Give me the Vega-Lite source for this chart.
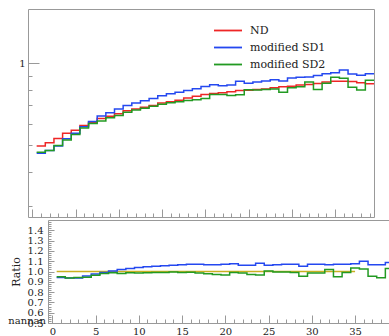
{
  "$schema": "https://vega.github.io/schema/vega-lite/v6.json",
  "padding": {"left": 7, "top": 8, "right": 0, "bottom": 0},
  "config": {
    "font": "DejaVu Serif",
    "view": {"stroke": "#999", "strokeWidth": 1},
    "axis": {"domain": false, "grid": false, "labelFont": "DejaVu Serif", "labelFontSize": 10, "labelColor": "#222", "tickColor": "#999", "labelOverlap": false, "labelFlush": false, "titleFont": "DejaVu Serif", "titleFontWeight": "normal", "titleFontSize": 11, "titleColor": "#222"}
  },
  "datasets": {
    "hist": [
      {"x": 0.5, "ND": 0.497, "modified SD1": 0.468, "modified SD2": 0.472, "r1": 0.942, "r2": 0.95},
      {"x": 1.5, "ND": 0.511, "modified SD1": 0.479, "modified SD2": 0.479, "r1": 0.937, "r2": 0.938},
      {"x": 2.5, "ND": 0.530, "modified SD1": 0.497, "modified SD2": 0.499, "r1": 0.937, "r2": 0.942},
      {"x": 3.5, "ND": 0.553, "modified SD1": 0.529, "modified SD2": 0.523, "r1": 0.957, "r2": 0.945},
      {"x": 4.5, "ND": 0.568, "modified SD1": 0.554, "modified SD2": 0.548, "r1": 0.975, "r2": 0.964},
      {"x": 5.5, "ND": 0.591, "modified SD1": 0.585, "modified SD2": 0.579, "r1": 0.99, "r2": 0.98},
      {"x": 6.5, "ND": 0.608, "modified SD1": 0.611, "modified SD2": 0.601, "r1": 1.005, "r2": 0.988},
      {"x": 7.5, "ND": 0.627, "modified SD1": 0.640, "modified SD2": 0.614, "r1": 1.02, "r2": 0.98},
      {"x": 8.5, "ND": 0.639, "modified SD1": 0.658, "modified SD2": 0.631, "r1": 1.03, "r2": 0.987},
      {"x": 9.5, "ND": 0.653, "modified SD1": 0.679, "modified SD2": 0.643, "r1": 1.04, "r2": 0.985},
      {"x": 10.5, "ND": 0.670, "modified SD1": 0.700, "modified SD2": 0.661, "r1": 1.045, "r2": 0.987},
      {"x": 11.5, "ND": 0.680, "modified SD1": 0.714, "modified SD2": 0.673, "r1": 1.05, "r2": 0.99},
      {"x": 12.5, "ND": 0.690, "modified SD1": 0.728, "modified SD2": 0.683, "r1": 1.055, "r2": 0.99},
      {"x": 13.5, "ND": 0.700, "modified SD1": 0.742, "modified SD2": 0.696, "r1": 1.06, "r2": 0.994},
      {"x": 14.5, "ND": 0.714, "modified SD1": 0.760, "modified SD2": 0.707, "r1": 1.065, "r2": 0.99},
      {"x": 15.5, "ND": 0.722, "modified SD1": 0.773, "modified SD2": 0.716, "r1": 1.07, "r2": 0.992},
      {"x": 16.5, "ND": 0.732, "modified SD1": 0.783, "modified SD2": 0.722, "r1": 1.07, "r2": 0.986},
      {"x": 17.5, "ND": 0.746, "modified SD1": 0.794, "modified SD2": 0.730, "r1": 1.065, "r2": 0.979},
      {"x": 18.5, "ND": 0.757, "modified SD1": 0.806, "modified SD2": 0.734, "r1": 1.065, "r2": 0.97},
      {"x": 19.5, "ND": 0.767, "modified SD1": 0.821, "modified SD2": 0.742, "r1": 1.07, "r2": 0.967},
      {"x": 20.5, "ND": 0.775, "modified SD1": 0.833, "modified SD2": 0.767, "r1": 1.075, "r2": 0.99},
      {"x": 21.5, "ND": 0.779, "modified SD1": 0.826, "modified SD2": 0.767, "r1": 1.06, "r2": 0.985},
      {"x": 22.5, "ND": 0.785, "modified SD1": 0.832, "modified SD2": 0.761, "r1": 1.06, "r2": 0.97},
      {"x": 23.5, "ND": 0.794, "modified SD1": 0.858, "modified SD2": 0.766, "r1": 1.08, "r2": 0.965},
      {"x": 24.5, "ND": 0.796, "modified SD1": 0.844, "modified SD2": 0.800, "r1": 1.06, "r2": 1.005},
      {"x": 25.5, "ND": 0.801, "modified SD1": 0.853, "modified SD2": 0.797, "r1": 1.065, "r2": 0.995},
      {"x": 26.5, "ND": 0.805, "modified SD1": 0.861, "modified SD2": 0.801, "r1": 1.07, "r2": 0.995},
      {"x": 27.5, "ND": 0.812, "modified SD1": 0.869, "modified SD2": 0.804, "r1": 1.07, "r2": 0.99},
      {"x": 28.5, "ND": 0.819, "modified SD1": 0.860, "modified SD2": 0.782, "r1": 1.05, "r2": 0.955},
      {"x": 29.5, "ND": 0.824, "modified SD1": 0.882, "modified SD2": 0.812, "r1": 1.07, "r2": 0.985},
      {"x": 30.5, "ND": 0.831, "modified SD1": 0.889, "modified SD2": 0.819, "r1": 1.07, "r2": 0.985},
      {"x": 31.5, "ND": 0.836, "modified SD1": 0.890, "modified SD2": 0.853, "r1": 1.065, "r2": 1.02},
      {"x": 32.5, "ND": 0.843, "modified SD1": 0.902, "modified SD2": 0.801, "r1": 1.07, "r2": 0.95},
      {"x": 33.5, "ND": 0.854, "modified SD1": 0.914, "modified SD2": 0.845, "r1": 1.07, "r2": 0.99},
      {"x": 34.5, "ND": 0.859, "modified SD1": 0.923, "modified SD2": 0.889, "r1": 1.075, "r2": 1.035},
      {"x": 35.5, "ND": 0.859, "modified SD1": 0.945, "modified SD2": 0.880, "r1": 1.10, "r2": 1.025},
      {"x": 36.5, "ND": 0.856, "modified SD1": 0.912, "modified SD2": 0.817, "r1": 1.065, "r2": 0.955},
      {"x": 37.5, "ND": 0.848, "modified SD1": 0.903, "modified SD2": 0.797, "r1": 1.065, "r2": 0.94},
      {"x": 38.5, "ND": 0.841, "modified SD1": 0.915, "modified SD2": 0.866, "r1": 1.088, "r2": 1.03},
      {"x": 39.5, "ND": 0.841, "modified SD1": 0.915, "modified SD2": 0.866, "r1": 1.088, "r2": 1.03}
    ],
    "ref": [
      {"x": 0.5, "r": 1.0},
      {"x": 35, "r": 1.0}
    ],
    "nan": [
      {"x": -0.5, "r": 0.52, "t": "nannan"}
    ]
  },
  "spacing": 1,
  "vconcat": [
    {
      "width": 346,
      "height": 208,
      "data": {"name": "hist"},
      "transform": [{"fold": ["ND", "modified SD1", "modified SD2"], "as": ["series", "value"]}],
      "mark": {"type": "line", "interpolate": "step-after", "strokeWidth": 1.5, "clip": true},
      "encoding": {
        "x": {"field": "x", "type": "quantitative",
          "scale": {"domain": [-0.5, 39.5], "nice": false, "zero": false},
          "axis": {"values": [0,1,2,3,4,5,6,7,8,9,10,11,12,13,14,15,16,17,18,19,20,21,22,23,24,25,26,27,28,29,30,31,32,33,34,35,36,37,38,39], "labels": false, "title": null, "minExtent": 0, "maxExtent": 0,
            "tickSize": {"condition": {"test": "datum.value % 5 === 0", "value": -8}, "value": -4}}},
        "y": {"field": "value", "type": "quantitative",
          "scale": {"type": "log", "domain": [0.273, 1.58], "nice": false},
          "axis": {"values": [0.3, 0.4, 0.5, 0.6, 0.7, 0.8, 0.9, 1], "labelExpr": "datum.value == 1 ? '1' : ''", "labelOverlap": false, "labelPadding": 14,
            "tickSize": {"condition": {"test": "datum.value == 1", "value": -11}, "value": -4},
            "title": null}},
        "color": {"field": "series", "type": "nominal",
          "scale": {"domain": ["ND", "modified SD1", "modified SD2"], "range": ["#ee2626", "#2448f0", "#229a22"]},
          "legend": {"orient": "none", "legendX": 183, "legendY": 16, "title": null, "symbolType": "M-1,0H10.2", "symbolSize": 25, "symbolStrokeWidth": 1.8, "labelFont": "DejaVu Serif", "labelFontSize": 11, "labelColor": "#222", "labelOffset": 28, "rowPadding": 5, "padding": 0}}
      }
    },
    {
      "spacing": 0,
      "bounds": "flush",
      "hconcat": [
        {
          "width": 20,
          "height": 103,
          "view": {"stroke": null},
          "data": {"values": [{"a": 1}]},
          "mark": {"type": "point", "opacity": 0},
          "encoding": {}
        },
        {
          "width": 346,
          "height": 103,
          "resolve": {"axis": {"x": "independent", "y": "independent"}},
          "layer": [
            {
              "data": {"name": "ref"},
              "mark": {"type": "line", "color": "#c9b020", "strokeWidth": 1.5},
              "encoding": {
                "x": {"field": "x", "type": "quantitative",
                  "scale": {"domain": [-0.5, 39.5], "nice": false, "zero": false},
                  "axis": {"orient": "bottom", "values": [0,1,2,3,4,5,6,7,8,9,10,11,12,13,14,15,16,17,18,19,20,21,22,23,24,25,26,27,28,29,30,31,32,33,34,35,36,37,38,39], "title": null, "labels": false, "minExtent": 0, "maxExtent": 0,
                    "tickSize": {"condition": {"test": "datum.value % 5 === 0", "value": -8}, "value": -4}}},
                "y": {"field": "r", "type": "quantitative",
                  "scale": {"domain": [0.5, 1.5], "nice": false, "zero": false},
                  "axis": {"orient": "left", "values": [0.5,0.52,0.54,0.56,0.58,0.6,0.62,0.64,0.66,0.68,0.7,0.72,0.74,0.76,0.78,0.8,0.82,0.84,0.86,0.88,0.9,0.92,0.94,0.96,0.98,1.0,1.02,1.04,1.06,1.08,1.1,1.12,1.14,1.16,1.18,1.2,1.22,1.24,1.26,1.28,1.3,1.32,1.34,1.36,1.38,1.4,1.42,1.44,1.46,1.48],
                    "labels": false, "title": null, "minExtent": 0, "maxExtent": 0,
                    "tickSize": {"condition": {"test": "round(datum.value*100) % 10 == 0", "value": -6}, "value": -3}}}
              }
            },
            {
              "data": {"name": "hist"},
              "mark": {"type": "line", "interpolate": "step-after", "color": "#2448f0", "strokeWidth": 1.5, "clip": true},
              "encoding": {
                "x": {"field": "x", "type": "quantitative",
                  "axis": {"orient": "bottom", "values": [0, 5, 10, 15, 20, 25, 30, 35], "ticks": false, "tickSize": 0, "labelPadding": 3, "title": null, "format": "d", "labelOverlap": false}},
                "y": {"field": "r1", "type": "quantitative",
                  "axis": {"orient": "left", "values": [0.5, 0.6, 0.7, 0.8, 0.9, 1.0, 1.1, 1.2, 1.3, 1.4], "ticks": false, "tickSize": 0, "labelPadding": 5, "format": ".1f", "labelOverlap": false,
                    "title": "Ratio", "minExtent": 25, "maxExtent": 25, "titlePadding": 2}}
              }
            },
            {
              "data": {"name": "hist"},
              "mark": {"type": "line", "interpolate": "step-after", "color": "#229a22", "strokeWidth": 1.5, "clip": true},
              "encoding": {
                "x": {"field": "x", "type": "quantitative", "axis": null},
                "y": {"field": "r2", "type": "quantitative", "axis": null}
              }
            },
            {
              "data": {"name": "nan"},
              "mark": {"type": "text", "align": "right", "baseline": "middle", "dx": -2, "font": "DejaVu Serif", "fontSize": 10, "color": "#222", "clip": false},
              "encoding": {
                "x": {"field": "x", "type": "quantitative", "axis": null},
                "y": {"field": "r", "type": "quantitative", "axis": null},
                "text": {"field": "t"}
              }
            }
          ]
        }
      ]
    }
  ]
}
